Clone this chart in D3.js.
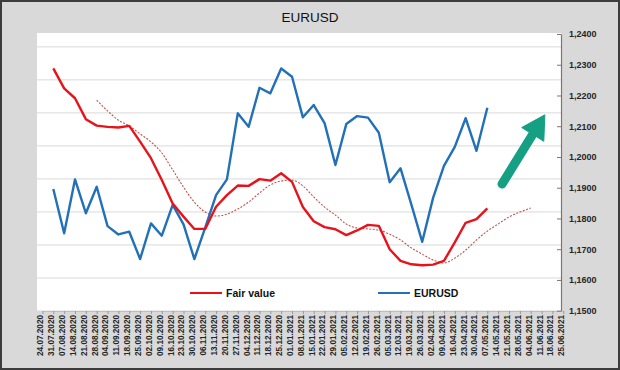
<!DOCTYPE html>
<html lang="en">
<head>
    <meta charset="UTF-8">
    <title>EURUSD</title>
    <script src="https://d3js.org/d3.v7.min.js"></script>
    <style>
        body { margin: 0; background: #fff; }
        svg { display: block; font-family: "Liberation Sans", Arial, sans-serif; }
        .tick-label { font-weight: bold; fill: #262626; }
    </style>
</head>
<body>
    <div id="chart"></div>

    <script>
        // weekly category labels
        const dates = [
            "24.07.2020", "31.07.2020", "07.08.2020", "14.08.2020", "21.08.2020", "28.08.2020",
            "04.09.2020", "11.09.2020", "18.09.2020", "25.09.2020", "02.10.2020", "09.10.2020",
            "16.10.2020", "23.10.2020", "30.10.2020", "06.11.2020", "13.11.2020", "20.11.2020",
            "27.11.2020", "04.12.2020", "11.12.2020", "18.12.2020", "25.12.2020", "01.01.2021",
            "08.01.2021", "15.01.2021", "22.01.2021", "29.01.2021", "05.02.2021", "12.02.2021",
            "19.02.2021", "26.02.2021", "05.03.2021", "12.03.2021", "19.03.2021", "26.03.2021",
            "02.04.2021", "09.04.2021", "16.04.2021", "23.04.2021", "30.04.2021", "07.05.2021",
            "14.05.2021", "21.05.2021", "28.05.2021", "04.06.2021", "11.06.2021", "18.06.2021",
            "25.06.2021"
        ];

        // EURUSD, from 31.07.2020
        const eurusdStart = "31.07.2020";
        const eurusd = [
            1.1896, 1.1752, 1.1927, 1.1817, 1.1903, 1.1775, 1.1748, 1.1757, 1.1668, 1.1784,
            1.1744, 1.1844, 1.1781, 1.1668, 1.1770, 1.1876, 1.1927, 1.2142, 1.2098, 1.2225,
            1.2207, 1.2288, 1.2261, 1.2129, 1.2169, 1.2110, 1.1974, 1.2107, 1.2133, 1.2128,
            1.2079, 1.1918, 1.1963, 1.1845, 1.1724, 1.1867, 1.1971, 1.2033, 1.2126, 1.2020,
            1.2160
        ];

        // Fair value, from 31.07.2020
        const fairStart = "31.07.2020";
        const fairValue = [
            1.2288, 1.2223, 1.2191, 1.2123, 1.2102, 1.2098, 1.2096, 1.2101, 1.2050, 1.1996,
            1.1925, 1.1849, 1.1806, 1.1766, 1.1766, 1.1838, 1.1876, 1.1907, 1.1906, 1.1928,
            1.1923, 1.1947, 1.1919, 1.1837, 1.1791, 1.1772, 1.1765, 1.1746, 1.1761, 1.1779,
            1.1776, 1.1700, 1.1662, 1.1651, 1.1648, 1.1650, 1.1662, 1.1722, 1.1786, 1.1798,
            1.1833
        ];

        // Fair value shifted forward (dotted), from 28.08.2020
        const leadStart = "28.08.2020";
        const fairValueLead = [
            1.2185, 1.2150, 1.2120, 1.2101, 1.2075, 1.2049, 1.2013, 1.1958, 1.1902, 1.1853,
            1.1821, 1.1808, 1.1814, 1.1831, 1.1853, 1.1883, 1.1909, 1.1922, 1.1925, 1.1906,
            1.1870, 1.1837, 1.1811, 1.1782, 1.1769, 1.1766, 1.1762, 1.1749, 1.1730, 1.1704,
            1.1684, 1.1665, 1.1655, 1.1671, 1.1697, 1.1730, 1.1759, 1.1782, 1.1805, 1.1821,
            1.1834
        ];

        const yTickValues = [1.15, 1.16, 1.17, 1.18, 1.19, 1.20, 1.21, 1.22, 1.23, 1.24];
        const seriesNames = ["Fair value", "EURUSD"];

        const width = 620, height = 370;
        const plot = {left: 37, right: 561, top: 33, bottom: 311};

        const svg = d3.select("#chart").append("svg")
            .attr("width", width)
            .attr("height", height);

        // chart background + frame
        svg.append("rect")
            .attr("x", 1).attr("y", 1)
            .attr("width", width - 2).attr("height", height - 2)
            .attr("fill", "#d9d9d9")
            .attr("stroke", "#3c3c3c")
            .attr("stroke-width", 2);

        svg.append("rect")
            .attr("x", plot.left).attr("y", plot.top)
            .attr("width", plot.right - plot.left)
            .attr("height", plot.bottom - plot.top)
            .attr("fill", "#fff");

        // scales
        const x = d3.scalePoint()
            .domain(dates)
            .range([42.45, 563.3]);

        const y = d3.scaleLinear()
            .domain([1.15, 1.24])
            .range([310.7, 34]);

        // gridlines follow the hidden primary axis, not the visible one
        const grid = d3.scaleLinear()
            .domain([0, 8.42])
            .range([plot.bottom, plot.top]);

        svg.append("g")
            .selectAll("line")
            .data(d3.range(0, 9))
            .enter().append("line")
            .attr("x1", plot.left)
            .attr("x2", plot.right)
            .attr("y1", d => grid(d))
            .attr("y2", d => grid(d))
            .attr("stroke", "#d9d9d9")
            .attr("stroke-width", 1);

        // x axis
        const xAxis = svg.append("g")
            .attr("transform", `translate(0,${plot.bottom})`)
            .call(d3.axisBottom(x).tickSize(3).tickSizeOuter(0));
        xAxis.select(".domain").attr("stroke", "#bfbfbf");
        xAxis.selectAll(".tick line").attr("stroke", "#9a9a9a");
        xAxis.selectAll("text")
            .attr("class", "tick-label")
            .attr("transform", "rotate(-90)")
            .attr("text-anchor", "end")
            .attr("x", -4)
            .attr("y", 0)
            .attr("dy", "0.05em")
            .style("font-size", "8.2px");

        // right value axis
        const yAxis = svg.append("g")
            .attr("transform", `translate(${plot.right},0)`)
            .call(d3.axisRight(y)
                .tickValues(yTickValues)
                .tickSize(0)
                .tickPadding(8)
                .tickFormat(d => d3.format(".4f")(d).replace(".", ",")));
        yAxis.select(".domain").attr("stroke", "#8d6e6e").attr("stroke-width", 1.2);
        yAxis.selectAll(".tick").append("line")
            .attr("x1", -4).attr("x2", 0)
            .attr("stroke", "#8d6e6e");
        yAxis.selectAll("text")
            .attr("class", "tick-label")
            .attr("fill", "#262626")
            .style("font-size", "9px");

        const toPoints = (values, start) => {
            const offset = dates.indexOf(start);
            return values.map((v, i) => ({date: dates[offset + i], value: v}));
        };

        const line = d3.line()
            .x(d => x(d.date))
            .y(d => y(d.value));

        svg.append("path")
            .datum(toPoints(fairValueLead, leadStart))
            .attr("fill", "none")
            .attr("stroke", "#c8504a")
            .attr("stroke-width", 1.1)
            .attr("stroke-dasharray", "2,1.5")
            .attr("d", line.curve(d3.curveMonotoneX));

        line.curve(d3.curveLinear);

        svg.append("path")
            .datum(toPoints(eurusd, eurusdStart))
            .attr("fill", "none")
            .attr("stroke", "#2271b8")
            .attr("stroke-width", 2.4)
            .attr("stroke-linejoin", "round")
            .attr("d", line);

        svg.append("path")
            .datum(toPoints(fairValue, fairStart))
            .attr("fill", "none")
            .attr("stroke", "#e8131a")
            .attr("stroke-width", 2.4)
            .attr("stroke-linejoin", "round")
            .attr("d", line);

        // green arrow annotation, positioned in data space
        const idx = d3.scaleLinear().domain([0, dates.length - 1]).range(x.range());
        const tail = [idx(42.35), y(1.1912)];
        const tip = [idx(46.3), y(1.2137)];
        const dx = tip[0] - tail[0], dy = tip[1] - tail[1];
        const len = Math.hypot(dx, dy);
        const ux = dx / len, uy = dy / len;
        const headLen = 23, headHalf = 13;
        const base = [tip[0] - ux * headLen, tip[1] - uy * headLen];

        const arrow = svg.append("g").attr("fill", "#15a083").attr("stroke", "#15a083");
        arrow.append("line")
            .attr("x1", tail[0]).attr("y1", tail[1])
            .attr("x2", base[0] + ux * 2).attr("y2", base[1] + uy * 2)
            .attr("stroke-width", 9)
            .attr("stroke-linecap", "round");
        arrow.append("path")
            .attr("stroke-width", 1)
            .attr("stroke-linejoin", "round")
            .attr("d", `M${tip[0]},${tip[1]}` +
                `L${base[0] - uy * headHalf},${base[1] + ux * headHalf}` +
                `L${base[0] + uy * headHalf},${base[1] - ux * headHalf}Z`);

        // title
        svg.append("text")
            .attr("x", 310)
            .attr("y", 22)
            .attr("text-anchor", "middle")
            .style("font-size", "13.5px")
            .attr("fill", "#111")
            .text("EURUSD");

        // legend
        const legendColors = ["#e8131a", "#2271b8"];
        const legendX = [190, 378];
        const legend = svg.append("g");
        seriesNames.forEach((name, i) => {
            legend.append("line")
                .attr("x1", legendX[i]).attr("x2", legendX[i] + 32)
                .attr("y1", 293).attr("y2", 293)
                .attr("stroke", legendColors[i])
                .attr("stroke-width", 2);
            legend.append("text")
                .attr("x", legendX[i] + 36)
                .attr("y", 297)
                .style("font-size", "10.5px")
                .style("font-weight", "bold")
                .attr("fill", "#111")
                .text(name);
        });
    </script>
</body>
</html>
